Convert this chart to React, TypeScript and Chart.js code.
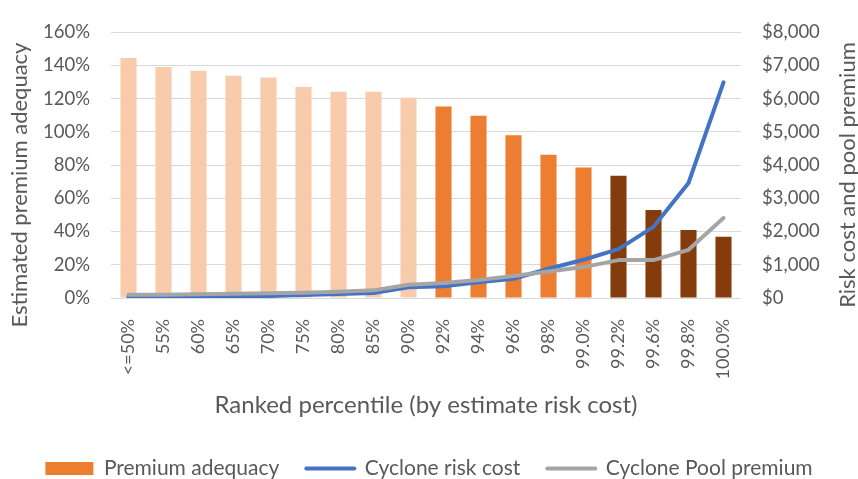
import React, { useEffect, useRef } from 'react';
import { Chart, registerables } from 'chart.js';

Chart.register(...registerables);

const categories = ['<=50%', '55%', '60%', '65%', '70%', '75%', '80%', '85%', '90%', '92%', '94%', '96%', '98%', '99.0%', '99.2%', '99.6%', '99.8%', '100.0%'];
const premiumAdequacy = [144.4, 139.0, 136.7, 133.8, 132.7, 127.0, 124.1, 124.1, 120.5, 115.3, 109.7, 97.9, 86.2, 78.6, 73.6, 53.0, 40.9, 36.9];
const cycloneRiskCost = [30, 40, 45, 55, 60, 90, 120, 150, 320, 350, 470, 580, 880, 1150, 1470, 2140, 3460, 6490];
const cyclonePoolPremium = [95, 100, 110, 130, 140, 160, 190, 230, 400, 450, 540, 660, 800, 930, 1140, 1140, 1450, 2410];
const leftTicks = [0, 20, 40, 60, 80, 100, 120, 140, 160];
const rightTicks = [0, 1000, 2000, 3000, 4000, 5000, 6000, 7000, 8000];

const leftTitle = 'Estimated premium adequacy';
const rightTitle = 'Risk cost and pool premium';
const xTitle = 'Ranked percentile (by estimate risk cost)';

const LIGHT = '#F8CBAD';
const ORANGE = '#ED7D31';
const BROWN = '#843C0C';
const BLUE = '#4472C4';
const GRAY = '#A5A5A5';
const TEXT = '#595959';
const GRID = '#D9D9D9';
const FONT = 'Lato';

const barColors = categories.map((_, i) => (i < 9 ? LIGHT : i < 14 ? ORANGE : BROWN));

const verticalTitles = {
  id: 'verticalTitles',
  afterDraw(chart: any) {
    const { ctx, chartArea } = chart;
    ctx.save();
    ctx.fillStyle = TEXT;
    ctx.font = `22px ${FONT}`;
    ctx.textAlign = 'center';
    ctx.textBaseline = 'middle';
    const draw = (text: string, x: number, y: number) => {
      ctx.save();
      ctx.translate(x, y);
      ctx.rotate(-Math.PI / 2);
      ctx.fillText(text, 0, 0);
      ctx.restore();
    };
    const midY = (chartArea.top + chartArea.bottom) / 2;
    draw(leftTitle, 20, midY + 20);
    draw(rightTitle, chart.width - 10, midY + 10);
    ctx.restore();
  },
};

export default function App() {
  const ref = useRef<HTMLCanvasElement | null>(null);

  useEffect(() => {
    document.body.style.margin = '0';
    const canvas = ref.current;
    if (!canvas) return;
    const chart = new Chart(canvas, {
      type: 'bar',
      data: {
        labels: categories,
        datasets: [
          {
            type: 'bar',
            label: 'Premium adequacy',
            data: premiumAdequacy,
            backgroundColor: barColors,
            borderWidth: 0,
            yAxisID: 'y',
            order: 2,
            categoryPercentage: 1,
            barPercentage: 0.46,
          },
          {
            type: 'line',
            label: 'Cyclone risk cost',
            data: cycloneRiskCost,
            borderColor: BLUE,
            backgroundColor: BLUE,
            borderWidth: 4,
            pointRadius: 0,
            tension: 0,
            borderCapStyle: 'round',
            borderJoinStyle: 'round',
            yAxisID: 'y1',
            order: 1,
          },
          {
            type: 'line',
            label: 'Cyclone Pool premium',
            data: cyclonePoolPremium,
            borderColor: GRAY,
            backgroundColor: GRAY,
            borderWidth: 4,
            pointRadius: 0,
            tension: 0,
            borderCapStyle: 'round',
            borderJoinStyle: 'round',
            yAxisID: 'y1',
            order: 0,
          },
        ],
      },
      options: {
        responsive: false,
        animation: false,
        devicePixelRatio: 1,
        layout: { padding: { top: 18, right: 0, bottom: -10, left: 0 } },
        plugins: {
          tooltip: { enabled: false },
          legend: {
            position: 'bottom',
            labels: {
              usePointStyle: true,
              pointStyleWidth: 48,
              boxHeight: 13,
              padding: 27,
              color: TEXT,
              font: { family: FONT, size: 21 },
              generateLabels: () => [
                { text: 'Premium adequacy', fillStyle: ORANGE, strokeStyle: ORANGE, lineWidth: 0, pointStyle: 'rect', datasetIndex: 0, fontColor: TEXT },
                { text: 'Cyclone risk cost', fillStyle: BLUE, strokeStyle: BLUE, lineWidth: 4, lineCap: 'round', pointStyle: 'line', datasetIndex: 1, fontColor: TEXT },
                { text: 'Cyclone Pool premium', fillStyle: GRAY, strokeStyle: GRAY, lineWidth: 4, lineCap: 'round', pointStyle: 'line', datasetIndex: 2, fontColor: TEXT },
              ] as any,
            },
          },
        },
        scales: {
          x: {
            grid: { display: false },
            border: { display: false },
            ticks: {
              autoSkip: false,
              minRotation: 90,
              maxRotation: 90,
              padding: 13,
              color: TEXT,
              font: { family: FONT, size: 18 },
            },
            title: {
              display: true,
              text: xTitle,
              color: TEXT,
              font: { family: FONT, size: 24, lineHeight: 1 },
              padding: { top: 0, bottom: 14 },
            },
            afterFit: (s: any) => { s.height = 133; },
          },
          y: {
            position: 'left',
            min: 0,
            max: 160,
            afterBuildTicks: (s: any) => { s.ticks = leftTicks.map((v) => ({ value: v })); },
            grid: { color: GRID, lineWidth: 1, drawTicks: false },
            border: { display: false },
            ticks: {
              padding: 21,
              color: TEXT,
              font: { family: FONT, size: 18.5 },
              callback: (v: any) => `${v}%`,
            },
            afterFit: (s: any) => { s.width = 111; },
          },
          y1: {
            position: 'right',
            min: 0,
            max: 8000,
            afterBuildTicks: (s: any) => { s.ticks = rightTicks.map((v) => ({ value: v })); },
            grid: { display: false, drawTicks: false },
            border: { display: false },
            ticks: {
              padding: 21,
              color: TEXT,
              font: { family: FONT, size: 18.5 },
              callback: (v: any) => '$' + Number(v).toLocaleString('en-US'),
            },
            afterFit: (s: any) => { s.width = 117; },
          },
        },
      },
      plugins: [verticalTitles],
    } as any);
    return () => chart.destroy();
  }, []);

  return (
    <div style={{ width: 858, height: 479 }}>
      <canvas ref={ref} width={858} height={479} style={{ display: 'block' }} />
    </div>
  );
}
